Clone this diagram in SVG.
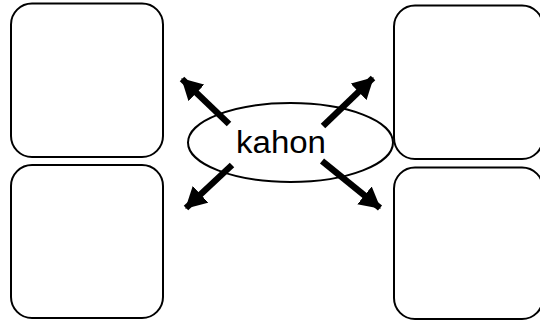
<svg xmlns="http://www.w3.org/2000/svg" width="540" height="321" viewBox="0 0 540 321">
<style>
.box{fill:#fff;stroke:#000;stroke-width:2}
.conn{stroke:#000;stroke-width:6.5;fill:none;marker-end:url(#ah)}
.lbl{font-family:"Liberation Sans","DejaVu Sans",sans-serif;font-size:31px;fill:#000}
</style>
<defs>
<marker id="ah" markerUnits="userSpaceOnUse" markerWidth="21" markerHeight="23" refX="20" refY="11.5" orient="auto" viewBox="0 0 21 23">
<path d="M0,0 L21,11.5 L0,23 z" fill="#000"/>
</marker>
</defs>
<rect width="540" height="321" fill="#fff"/>
<g id="box-tl"><rect class="box" x="11" y="3.5" width="152" height="153.5" rx="21"/></g>
<g id="box-bl"><rect class="box" x="11" y="165" width="152" height="153" rx="21"/></g>
<g id="box-tr"><rect class="box" x="394" y="5.5" width="149" height="153.5" rx="21"/></g>
<g id="box-br"><rect class="box" x="394" y="167.5" width="149" height="151.5" rx="21"/></g>
<g id="center">
<ellipse cx="290.5" cy="142.5" rx="102.5" ry="39.5" fill="#fff" stroke="#000" stroke-width="2"/>
<text class="lbl" x="236" y="153" textLength="90" lengthAdjust="spacingAndGlyphs">kahon</text>
</g>
<g id="connectors">
<line class="conn" x1="229" y1="124" x2="182" y2="79"/>
<line class="conn" x1="323" y1="126" x2="373" y2="78"/>
<line class="conn" x1="232" y1="165" x2="186" y2="208"/>
<line class="conn" x1="322" y1="161" x2="380" y2="208"/>
</g>
</svg>
